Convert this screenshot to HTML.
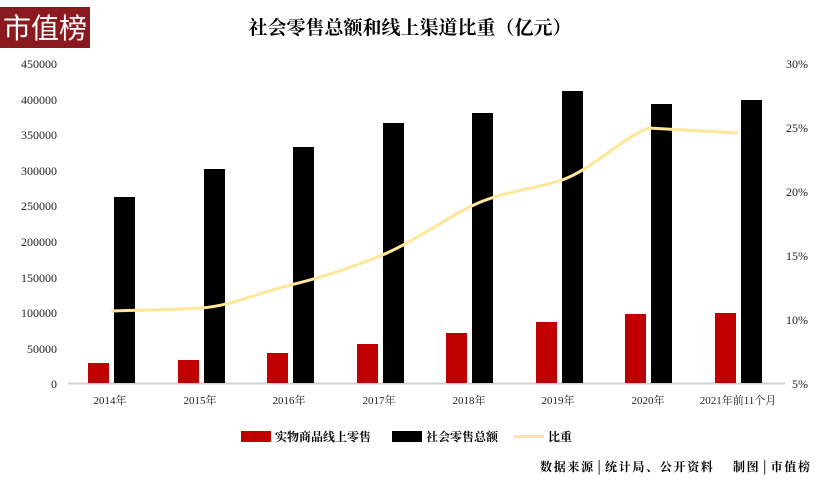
<!DOCTYPE html>
<html><head><meta charset="utf-8"><style>
body{margin:0;background:#fff;width:819px;height:482px;overflow:hidden;font-family:"Liberation Serif","Noto Serif CJK SC",serif}
</style></head><body>
<svg width="819" height="482" xmlns="http://www.w3.org/2000/svg" font-family="Liberation Serif, Noto Serif CJK SC, serif">
<rect x="0" y="7" width="90" height="41" fill="#8b1a1f"/>
<text x="45" y="38" fill="#fff" font-size="28" text-anchor="middle" font-family="Noto Sans CJK SC, sans-serif">市值榜</text>
<text x="410" y="34" font-size="19" font-weight="bold" text-anchor="middle" font-family="Noto Serif CJK SC, serif">社会零售总额和线上渠道比重（亿元）</text>
<g font-size="12" fill="#222" text-anchor="end">
<text x="57" y="68">450000</text><text x="57" y="104">400000</text><text x="57" y="139">350000</text>
<text x="57" y="175">300000</text><text x="57" y="210">250000</text><text x="57" y="246">200000</text>
<text x="57" y="282">150000</text><text x="57" y="317">100000</text><text x="57" y="353">50000</text><text x="57" y="388">0</text>
</g>
<g font-size="12" fill="#222" text-anchor="end">
<text x="808" y="68">30%</text><text x="808" y="132">25%</text><text x="808" y="196">20%</text>
<text x="808" y="260">15%</text><text x="808" y="324">10%</text><text x="808" y="388">5%</text>
</g>
<line x1="68" y1="383.5" x2="785" y2="383.5" stroke="#d0d0d0" stroke-width="2"/>
<g fill="#c00000">
<rect x="88" y="363" width="21" height="20"/><rect x="178" y="360" width="21" height="23"/>
<rect x="267" y="353" width="21" height="30"/><rect x="357" y="344" width="21" height="39"/>
<rect x="446" y="333" width="21" height="50"/><rect x="536" y="322" width="21" height="61"/>
<rect x="625" y="314" width="21" height="69"/><rect x="715" y="313" width="21" height="70"/>
</g>
<g fill="#000">
<rect x="114" y="197" width="21" height="186"/><rect x="204" y="169" width="21" height="214"/>
<rect x="293" y="147" width="21" height="236"/><rect x="383" y="123" width="21" height="260"/>
<rect x="472" y="113" width="21" height="270"/><rect x="562" y="91" width="21" height="292"/>
<rect x="651" y="104" width="21" height="279"/><rect x="741" y="100" width="21" height="283"/>
</g>
<path d="M111.5,311 C141,310 171,310 201,308 S261,292 290.5,285 S350,268 380,256 S440,222 469.5,207 S529,190 559,181 S619,140 648.5,128 L738,133" fill="none" stroke="#ffe699" stroke-width="3"/>
<g font-size="11" fill="#222" text-anchor="middle">
<text x="110" y="404">2014年</text><text x="200" y="404">2015年</text><text x="289" y="404">2016年</text>
<text x="379" y="404">2017年</text><text x="469" y="404">2018年</text><text x="558" y="404">2019年</text>
<text x="648" y="404">2020年</text><text x="738" y="404">2021年前11个月</text>
</g>
<rect x="241" y="431" width="30" height="11" fill="#c00000"/>
<text x="275" y="441" font-size="12" font-weight="bold">实物商品线上零售</text>
<rect x="392" y="431" width="30" height="11" fill="#000"/>
<text x="426" y="441" font-size="12" font-weight="bold">社会零售总额</text>
<line x1="514" y1="436.5" x2="544" y2="436.5" stroke="#ffe699" stroke-width="3"/>
<text x="548" y="441" font-size="12" font-weight="bold">比重</text>
<text x="540" y="471" font-size="12" font-weight="bold" textLength="270" lengthAdjust="spacing">数据来源│统计局、公开资料　 制图│市值榜</text>
</svg>
</body></html>
